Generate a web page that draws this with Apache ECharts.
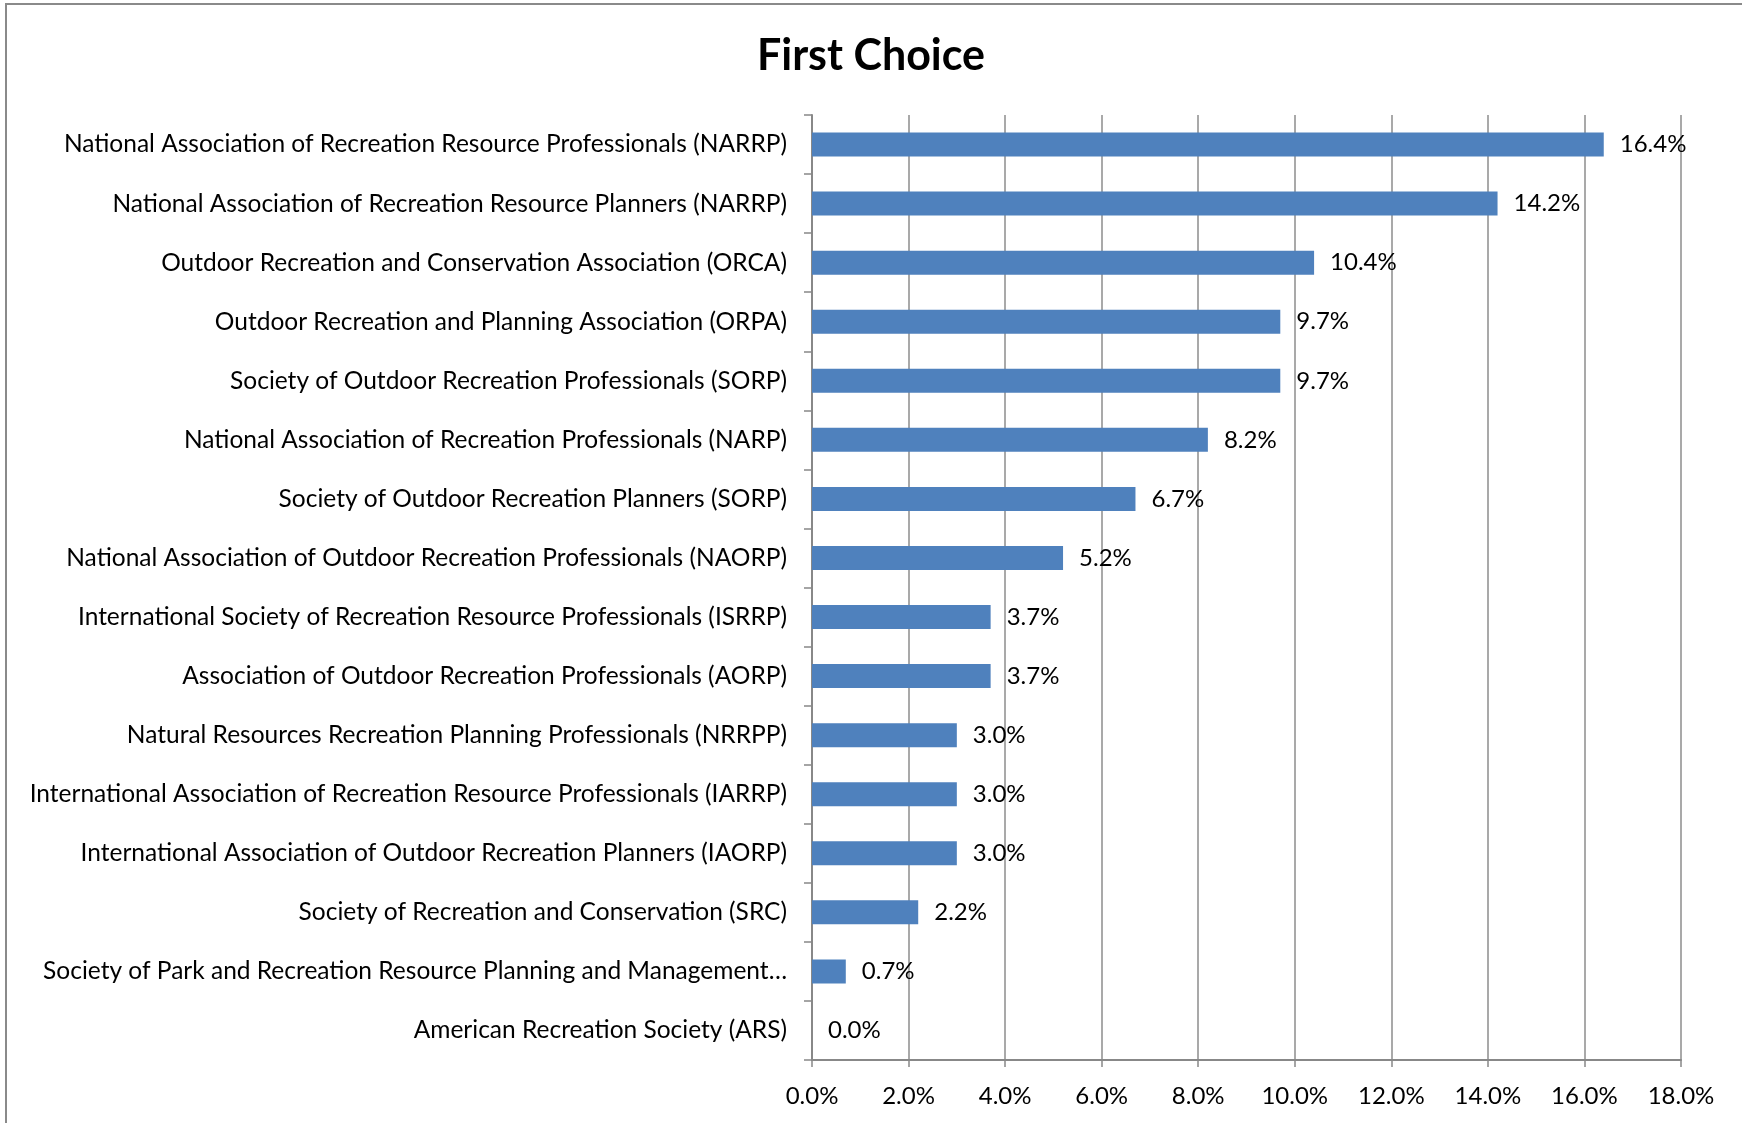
<!DOCTYPE html>
<html>
<head>
<meta charset="utf-8">
<script src="https://cdn.jsdelivr.net/npm/echarts@6/dist/echarts.min.js"></script>
<style>
  html, body { margin: 0; padding: 0; background: #fff; }
  #chart { width: 1742px; height: 1123px; }
  #frame { position: absolute; left: 5px; top: 3px; width: 1760px; height: 1200px;
           border-left: 2px solid #8a8a8a; border-top: 2px solid #8a8a8a; pointer-events: none; }
</style>
</head>
<body>
<div id="chart"></div>
<div id="frame"></div>
<script>
  // categories top to bottom
  var orgNames = [
    'National Association of Recreation Resource Professionals (NARRP)',
    'National Association of Recreation Resource Planners (NARRP)',
    'Outdoor Recreation and Conservation Association (ORCA)',
    'Outdoor Recreation and Planning Association (ORPA)',
    'Society of Outdoor Recreation Professionals (SORP)',
    'National Association of Recreation Professionals (NARP)',
    'Society of Outdoor Recreation Planners (SORP)',
    'National Association of Outdoor Recreation Professionals (NAORP)',
    'International Society of Recreation Resource Professionals (ISRRP)',
    'Association of Outdoor Recreation Professionals (AORP)',
    'Natural Resources Recreation Planning Professionals (NRRPP)',
    'International Association of Recreation Resource Professionals (IARRP)',
    'International Association of Outdoor Recreation Planners (IAORP)',
    'Society of Recreation and Conservation (SRC)',
    'Society of Park and Recreation Resource Planning and Management…',
    'American Recreation Society (ARS)'
  ];
  var firstChoicePct = [16.4, 14.2, 10.4, 9.7, 9.7, 8.2, 6.7, 5.2, 3.7, 3.7, 3.0, 3.0, 3.0, 2.2, 0.7, 0.0];

  var font = 'Lato';
  var chart = echarts.init(document.getElementById('chart'));
  var option = {
    animation: false,
    title: {
      text: 'First Choice',
      left: 'center',
      top: 30,
      textStyle: { fontFamily: font, fontWeight: 'bold', fontSize: 43, color: '#000' }
    },
    grid: { left: 812, right: 61, top: 115, bottom: 63 },
    xAxis: {
      type: 'value',
      min: 0,
      max: 18,
      interval: 2,
      axisLine: { show: true, lineStyle: { color: '#888', width: 2 } },
      axisTick: { show: true, length: 7, lineStyle: { color: '#888', width: 1.5 } },
      splitLine: { show: true, lineStyle: { color: '#8c8c8c', width: 1.5 } },
      axisLabel: {
        margin: 24,
        fontFamily: font, fontSize: 24, color: '#000',
        formatter: function (v) { return v.toFixed(1) + '%'; }
      }
    },
    yAxis: {
      type: 'category',
      inverse: true,
      data: orgNames,
      axisLine: { show: true, lineStyle: { color: '#888', width: 2 } },
      axisTick: { show: true, length: 8, lineStyle: { color: '#888', width: 1.5 } },
      axisLabel: { margin: 25, fontFamily: font, fontSize: 24.5, color: '#000' }
    },
    series: [{
      type: 'bar',
      data: firstChoicePct,
      barWidth: 24,
      itemStyle: { color: '#4F81BD' },
      label: {
        show: true,
        position: 'right',
        distance: 16,
        fontFamily: font, fontSize: 24, color: '#000',
        formatter: function (p) { return p.value.toFixed(1) + '%'; }
      }
    }]
  };
  chart.setOption(option);
</script>
</body>
</html>
